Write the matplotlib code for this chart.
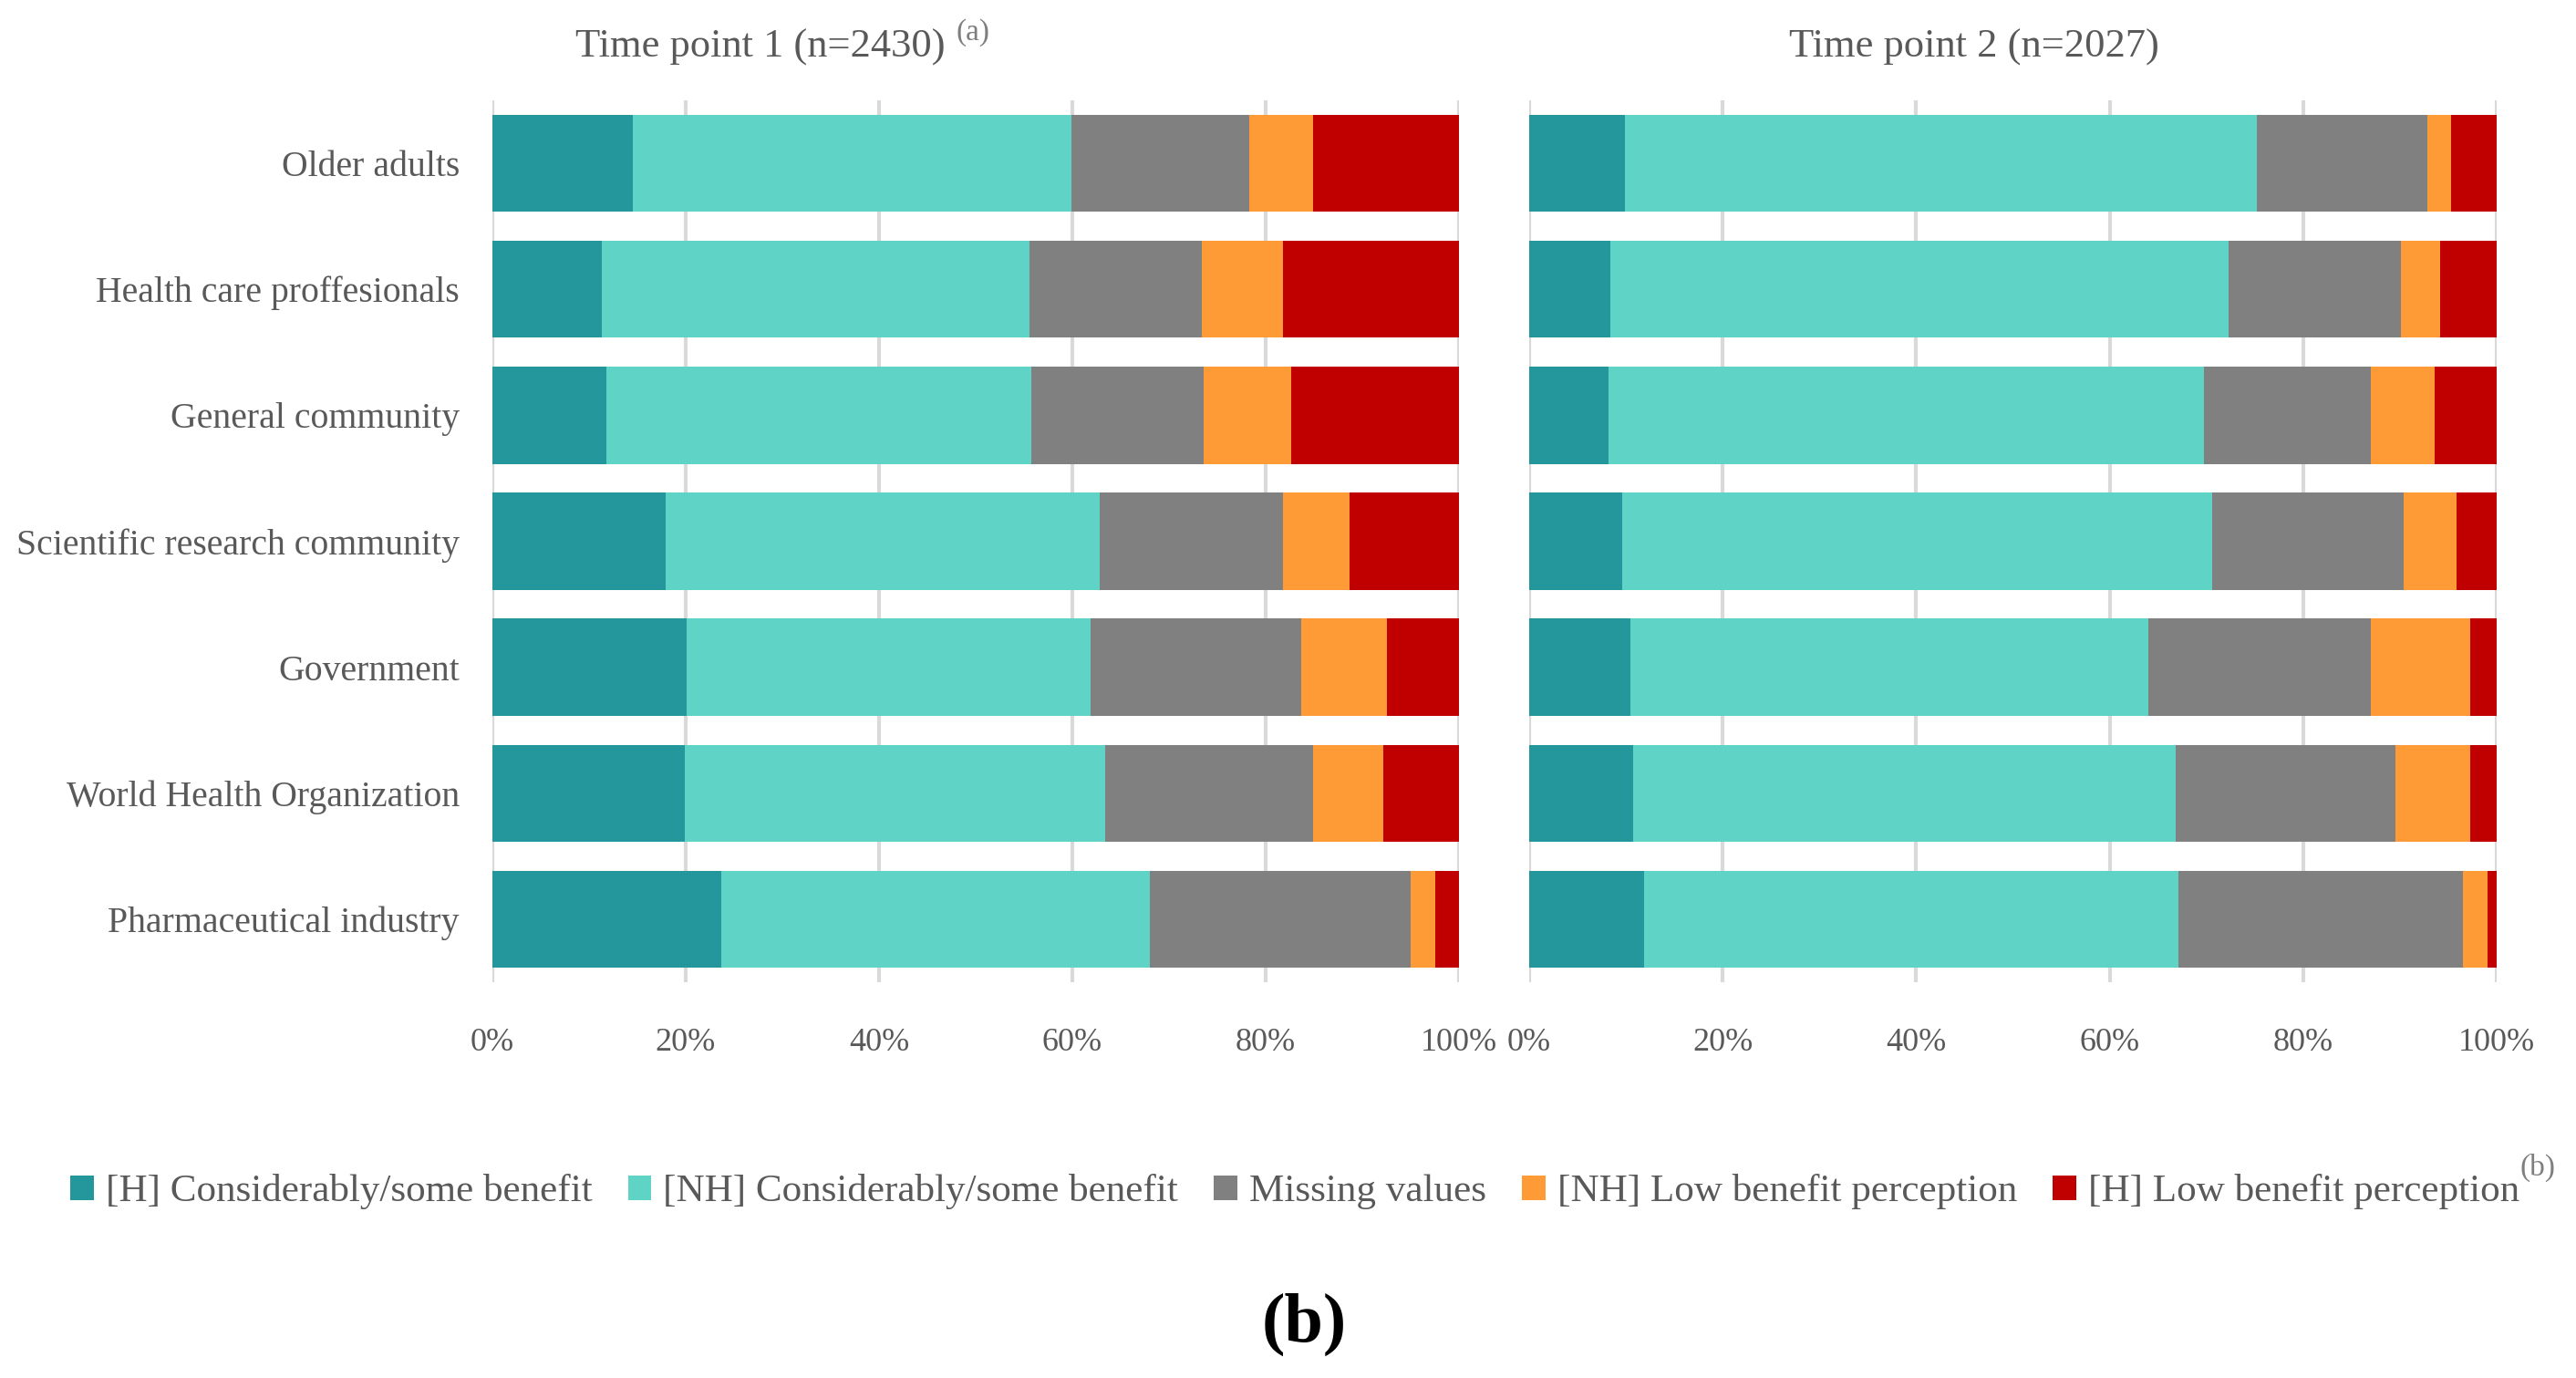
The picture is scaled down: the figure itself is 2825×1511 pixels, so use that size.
import matplotlib
matplotlib.use("Agg")
import matplotlib.pyplot as plt
import numpy as np

categories = ["Older adults", "Health care proffesionals", "General community",
              "Scientific research community", "Government",
              "World Health Organization", "Pharmaceutical industry"]
series_names = ["[H] Considerably/some benefit", "[NH] Considerably/some benefit",
                "Missing values", "[NH] Low benefit perception", "[H] Low benefit perception"]
colors = ["#23979C", "#5FD3C6", "#808080", "#FF9B37", "#C00000"]

# Time point 1 (percent)
tp1_h_benefit = [14.5, 11.3, 11.8, 17.9, 20.1, 19.9, 23.7]
tp1_nh_benefit = [45.4, 44.3, 44.0, 44.9, 41.8, 43.5, 44.3]
tp1_missing = [18.4, 17.8, 17.8, 19.0, 21.8, 21.5, 27.0]
tp1_nh_low = [6.6, 8.4, 9.0, 6.9, 8.8, 7.3, 2.5]
tp1_h_low = [15.1, 18.2, 17.4, 11.3, 7.5, 7.8, 2.5]

# Time point 2 (percent)
tp2_h_benefit = [9.9, 8.4, 8.2, 9.6, 10.5, 10.7, 11.9]
tp2_nh_benefit = [65.3, 63.9, 61.5, 61.0, 53.5, 56.1, 55.2]
tp2_missing = [17.6, 17.8, 17.3, 19.8, 23.0, 22.7, 29.4]
tp2_nh_low = [2.5, 4.1, 6.6, 5.5, 10.3, 7.8, 2.6]
tp2_h_low = [4.7, 5.8, 6.4, 4.1, 2.7, 2.7, 0.9]

titles = ["Time point 1 (n=2430)", "Time point 2 (n=2027)"]
xticks = [0, 20, 40, 60, 80, 100]
xticklabels = ["0%", "20%", "40%", "60%", "80%", "100%"]

TXT = "#595959"
FONT = "Liberation Serif"
plt.rcParams['font.family'] = [FONT, 'DejaVu Serif']

W, H = 2825, 1511
fig = plt.figure(figsize=(W / 100, H / 100), dpi=100)

ax1 = fig.add_axes([540 / W, 1 - 1077 / H, 1060 / W, 967 / H])
ax2 = fig.add_axes([1677 / W, 1 - 1077 / H, 1061 / W, 967 / H])

data = [
    [tp1_h_benefit, tp1_nh_benefit, tp1_missing, tp1_nh_low, tp1_h_low],
    [tp2_h_benefit, tp2_nh_benefit, tp2_missing, tp2_nh_low, tp2_h_low],
]

y = np.arange(len(categories))
handles = []
for k, (ax, series) in enumerate(zip([ax1, ax2], data)):
    left = np.zeros(len(categories))
    for i, vals in enumerate(series):
        vals = np.array(vals, dtype=float)
        b = ax.barh(y, vals, left=left, height=0.77, color=colors[i],
                    label=series_names[i], zorder=3)
        left += vals
        if k == 0:
            handles.append(b)
    ax.set_xlim(0, 100)
    ax.set_ylim(len(categories) - 0.5, -0.5)
    ax.set_xticks(xticks)
    ax.set_xticklabels(xticklabels, fontsize=26, color=TXT)
    ax.tick_params(axis='x', length=0, pad=36)
    ax.tick_params(axis='y', length=0)
    ax.grid(axis='x', color="#D9D9D9", linewidth=3, zorder=0)
    for s in ax.spines.values():
        s.set_visible(False)
    if k == 0:
        ax.set_yticks(y)
        ax.set_yticklabels(categories, fontsize=28.6, color=TXT)
        ax.tick_params(axis='y', pad=26)
    else:
        ax.set_yticks([])

# Titles
fig.text(834 / W, 1 - 63 / H, titles[0], ha='center', va='baseline',
         fontsize=32, color=TXT)
fig.text(2165 / W, 1 - 63 / H, titles[1], ha='center', va='baseline',
         fontsize=32, color=TXT)
fig.text(1048 / W, 1 - 36 / H, "(a)", ha='left', va='center',
         fontsize=24, color="#7F7F7F")

# Legend
leg = fig.legend(handles=handles, labels=series_names, loc='center',
                 bbox_to_anchor=(1420 / W, 1 - 1307 / H), ncol=5, frameon=False,
                 fontsize=31.1, handlelength=0.6, handleheight=0.6,
                 handletextpad=0.3, columnspacing=0.9, borderpad=0, borderaxespad=0)
for t in leg.get_texts():
    t.set_color(TXT)

fig.canvas.draw()
bb = leg.get_texts()[-1].get_window_extent()
fig.text((bb.x1 + 1) / W, 1 - 1280 / H, "(b)", ha='left', va='center',
         fontsize=24, color="#7F7F7F")

fig.text(1430 / W, 1 - 1452 / H, "(b)", ha='center', va='center',
         fontsize=55, fontweight='bold', color="black")

fig.savefig("out.png", dpi=100)
